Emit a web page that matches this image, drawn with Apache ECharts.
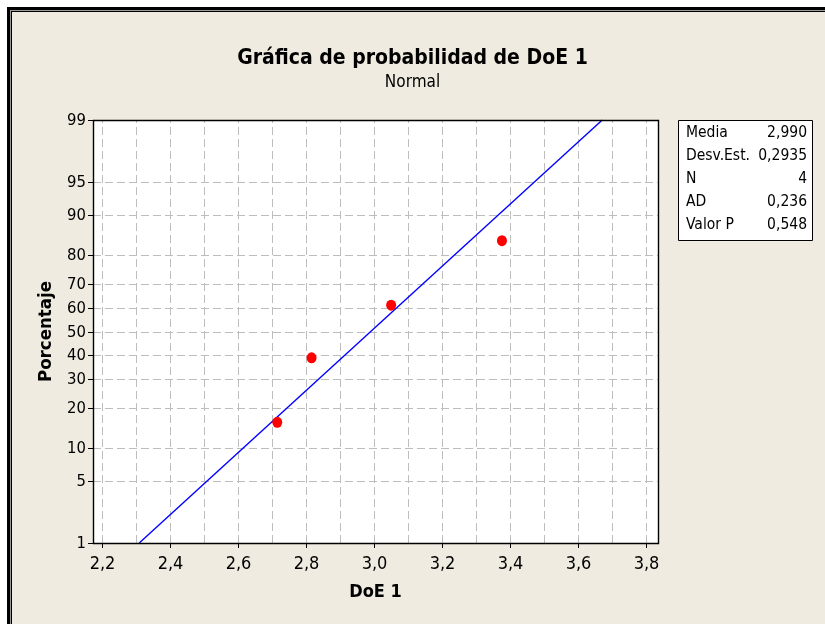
<!DOCTYPE html>
<html>
<head>
<meta charset="utf-8">
<script src="https://cdn.jsdelivr.net/npm/echarts@6/dist/echarts.min.js"></script>
<style>
html,body{margin:0;padding:0;background:#ffffff;}
#chart{width:825px;height:624px;}
</style>
</head>
<body>
<div id="chart"></div>
<script>
// ---- data ----
const doeValues = [2.715, 2.816, 3.050, 3.376];
const percentValues = [15.9, 38.6, 61.4, 84.1];
const fitLineX = [2.309, 3.671];
const fitLineP = [1, 99];
const xTickValues = [2.2, 2.4, 2.6, 2.8, 3.0, 3.2, 3.4, 3.6, 3.8];
const xTickLabels = ['2,2', '2,4', '2,6', '2,8', '3,0', '3,2', '3,4', '3,6', '3,8'];
const xGridValues = [2.2, 2.3, 2.4, 2.5, 2.6, 2.7, 2.8, 2.9, 3.0, 3.1, 3.2, 3.3, 3.4, 3.5, 3.6, 3.7, 3.8];
const yTickValues = [1, 5, 10, 20, 30, 40, 50, 60, 70, 80, 90, 95, 99];
const yTickLabels = ['1', '5', '10', '20', '30', '40', '50', '60', '70', '80', '90', '95', '99'];
const statsLabels = ['Media', 'Desv.Est.', 'N', 'AD', 'Valor P'];
const statsValues = ['2,990', '0,2935', '4', '0,236', '0,548'];
const xMin = 2.173, xMax = 3.835;

// inverse normal CDF (probability scale)
function normInv(p) {
  const a = [-3.969683028665376e+01, 2.209460984245205e+02, -2.759285104469687e+02, 1.383577518672690e+02, -3.066479806614716e+01, 2.506628277459239e+00];
  const b = [-5.447609879822406e+01, 1.615858368580409e+02, -1.556989798598866e+02, 6.680131188771972e+01, -1.328068155288572e+01];
  const c = [-7.784894002430293e-03, -3.223964580411365e-01, -2.400758277161838e+00, -2.549732539343734e+00, 4.374664141464968e+00, 2.938163982698783e+00];
  const d = [7.784695709041462e-03, 3.224671290700398e-01, 2.445134137142996e+00, 3.754408661907416e+00];
  const pl = 0.02425, ph = 1 - pl;
  let q, r;
  if (p < pl) {
    q = Math.sqrt(-2 * Math.log(p));
    return (((((c[0]*q+c[1])*q+c[2])*q+c[3])*q+c[4])*q+c[5]) / ((((d[0]*q+d[1])*q+d[2])*q+d[3])*q+1);
  } else if (p <= ph) {
    q = p - 0.5; r = q * q;
    return (((((a[0]*r+a[1])*r+a[2])*r+a[3])*r+a[4])*r+a[5])*q / (((((b[0]*r+b[1])*r+b[2])*r+b[3])*r+b[4])*r+1);
  } else {
    q = Math.sqrt(-2 * Math.log(1 - p));
    return -(((((c[0]*q+c[1])*q+c[2])*q+c[3])*q+c[4])*q+c[5]) / ((((d[0]*q+d[1])*q+d[2])*q+d[3])*q+1);
  }
}
const z = p => normInv(p / 100);
const yMin = z(1), yMax = z(99);

const FONT = '"DejaVu Sans Condensed", "Liberation Sans", sans-serif';
const gridColor = '#bdbdbd';

const chart = echarts.init(document.getElementById('chart'));

const option = {
  backgroundColor: '#ffffff',
  animation: false,
  title: {
    text: 'Gráfica de probabilidad de DoE 1',
    subtext: 'Normal',
    left: 'center',
    top: 43,
    itemGap: 5,
    textStyle: { fontFamily: FONT, fontSize: 21, fontWeight: 'bold', color: '#000' },
    subtextStyle: { fontFamily: FONT, fontSize: 17, color: '#000' }
  },
  graphic: [
    { type: 'rect', z: -10, silent: true, shape: { x: 7, y: 7, width: 830, height: 630 }, style: { fill: '#efebe0' } },
    { type: 'rect', z: -9, silent: true, shape: { x: 7, y: 7, width: 830, height: 3 }, style: { fill: '#000' } },
    { type: 'rect', z: -9, silent: true, shape: { x: 7, y: 7, width: 3, height: 630 }, style: { fill: '#000' } },
    { type: 'rect', z: -9, silent: true, shape: { x: 10, y: 10, width: 830, height: 1 }, style: { fill: '#9a9a9a' } },
    { type: 'rect', z: -9, silent: true, shape: { x: 10, y: 10, width: 1, height: 630 }, style: { fill: '#9a9a9a' } },
    { type: 'rect', z: -9, silent: true, shape: { x: 11, y: 11, width: 830, height: 1 }, style: { fill: '#000' } },
    { type: 'rect', z: -9, silent: true, shape: { x: 11, y: 11, width: 1, height: 630 }, style: { fill: '#000' } },
    {
      type: 'group', left: 678, top: 120,
      children: [
        { type: 'rect', shape: { x: 0.5, y: 0.5, width: 134, height: 120 }, style: { fill: '#fff', stroke: '#000', lineWidth: 1 } }
      ].concat(statsLabels.map((s, i) => ({
        type: 'text', x: 8, y: 13 + i * 23,
        style: { text: s, fontFamily: FONT, fontSize: 15.5, fill: '#000', verticalAlign: 'middle', align: 'left' }
      }))).concat(statsValues.map((s, i) => ({
        type: 'text', x: 129, y: 13 + i * 23,
        style: { text: s, fontFamily: FONT, fontSize: 15.5, fill: '#000', verticalAlign: 'middle', align: 'right' }
      })))
    }
  ],
  grid: {
    left: 93, top: 120, width: 565, height: 423,
    show: true, backgroundColor: '#ffffff', borderColor: '#000', borderWidth: 0
  },
  xAxis: {
    type: 'value', min: xMin, max: xMax,
    name: 'DoE 1', nameLocation: 'middle', nameGap: 40,
    nameTextStyle: { fontFamily: FONT, fontSize: 18, fontWeight: 'bold', color: '#000' },
    axisLine: { show: false }, axisTick: { show: false }, axisLabel: { show: false }, splitLine: { show: false }
  },
  yAxis: {
    type: 'value', min: yMin, max: yMax,
    name: 'Porcentaje', nameLocation: 'middle', nameGap: 37,
    nameTextStyle: { fontFamily: FONT, fontSize: 18.5, fontWeight: 'bold', color: '#000' },
    axisLine: { show: false }, axisTick: { show: false }, axisLabel: { show: false }, splitLine: { show: false }
  },
  series: [
    {
      type: 'custom', name: 'xgrid', silent: true, z: 1,
      data: xGridValues.map(v => [v]),
      renderItem: function (params, api) {
        const x = api.value(0);
        const p0 = api.coord([x, yMin]);
        const p1 = api.coord([x, yMax]);
        return {
          type: 'line',
          shape: { x1: Math.round(p0[0]) + 0.5, y1: p0[1], x2: Math.round(p1[0]) + 0.5, y2: p1[1] },
          style: { stroke: gridColor, lineWidth: 1, lineDash: [8, 4] }
        };
      }
    },
    {
      type: 'custom', name: 'xticks', silent: true, z: 2,
      data: xTickValues.map((v, i) => [v, i]),
      renderItem: function (params, api) {
        const x = api.value(0);
        const p0 = api.coord([x, yMin]);
        const px = Math.round(p0[0]) + 0.5;
        return {
          type: 'group',
          children: [
            { type: 'line', shape: { x1: px, y1: p0[1], x2: px, y2: p0[1] + 5 }, style: { stroke: '#000', lineWidth: 1 } },
            { type: 'text', x: px, y: p0[1] + 12, style: { text: xTickLabels[api.value(1)], fontFamily: FONT, fontSize: 18, fill: '#000', align: 'center', verticalAlign: 'top' } }
          ]
        };
      }
    },
    {
      type: 'custom', name: 'ygrid', silent: true, z: 1,
      data: yTickValues.map((v, i) => [z(v), i]),
      renderItem: function (params, api) {
        const y = api.value(0);
        const idx = api.value(1);
        const p0 = api.coord([xMin, y]);
        const p1 = api.coord([xMax, y]);
        const py = Math.round(p0[1]) + 0.5;
        const children = [
          { type: 'line', shape: { x1: p0[0] - 5, y1: py, x2: p0[0], y2: py }, style: { stroke: '#000', lineWidth: 1 } },
          { type: 'text', x: p0[0] - 7, y: py, style: { text: yTickLabels[idx], fontFamily: FONT, fontSize: 16.5, fill: '#000', align: 'right', verticalAlign: 'middle' } }
        ];
        if (idx > 0 && idx < yTickValues.length - 1) {
          children.unshift({ type: 'line', shape: { x1: p0[0], y1: py, x2: p1[0], y2: py }, style: { stroke: gridColor, lineWidth: 1, lineDash: [8, 4] } });
        }
        return { type: 'group', children: children };
      }
    },
    {
      type: 'custom', name: 'frame', silent: true, z: 5,
      data: [[xMin, yMin, xMax, yMax]],
      renderItem: function (params, api) {
        const a = api.coord([api.value(0), api.value(1)]);
        const b = api.coord([api.value(2), api.value(3)]);
        return {
          type: 'rect',
          shape: { x: Math.round(a[0]) + 0.5, y: Math.round(b[1]) + 0.5, width: Math.round(b[0] - a[0]), height: Math.round(a[1] - b[1]) },
          style: { fill: 'none', stroke: '#000', lineWidth: 1.4 }
        };
      }
    },
    {
      type: 'line', name: 'Ajuste', silent: true, z: 3,
      data: fitLineX.map((x, i) => [x, z(fitLineP[i])]),
      showSymbol: false, symbol: 'none',
      lineStyle: { color: '#0000ff', width: 1.4 }
    },
    {
      type: 'scatter', name: 'DoE 1', z: 4,
      data: doeValues.map((x, i) => [x, z(percentValues[i])]),
      symbol: 'circle', symbolSize: [10, 11],
      itemStyle: { color: '#ff0000', opacity: 1 }
    }
  ]
};
chart.setOption(option);
</script>
</body>
</html>
